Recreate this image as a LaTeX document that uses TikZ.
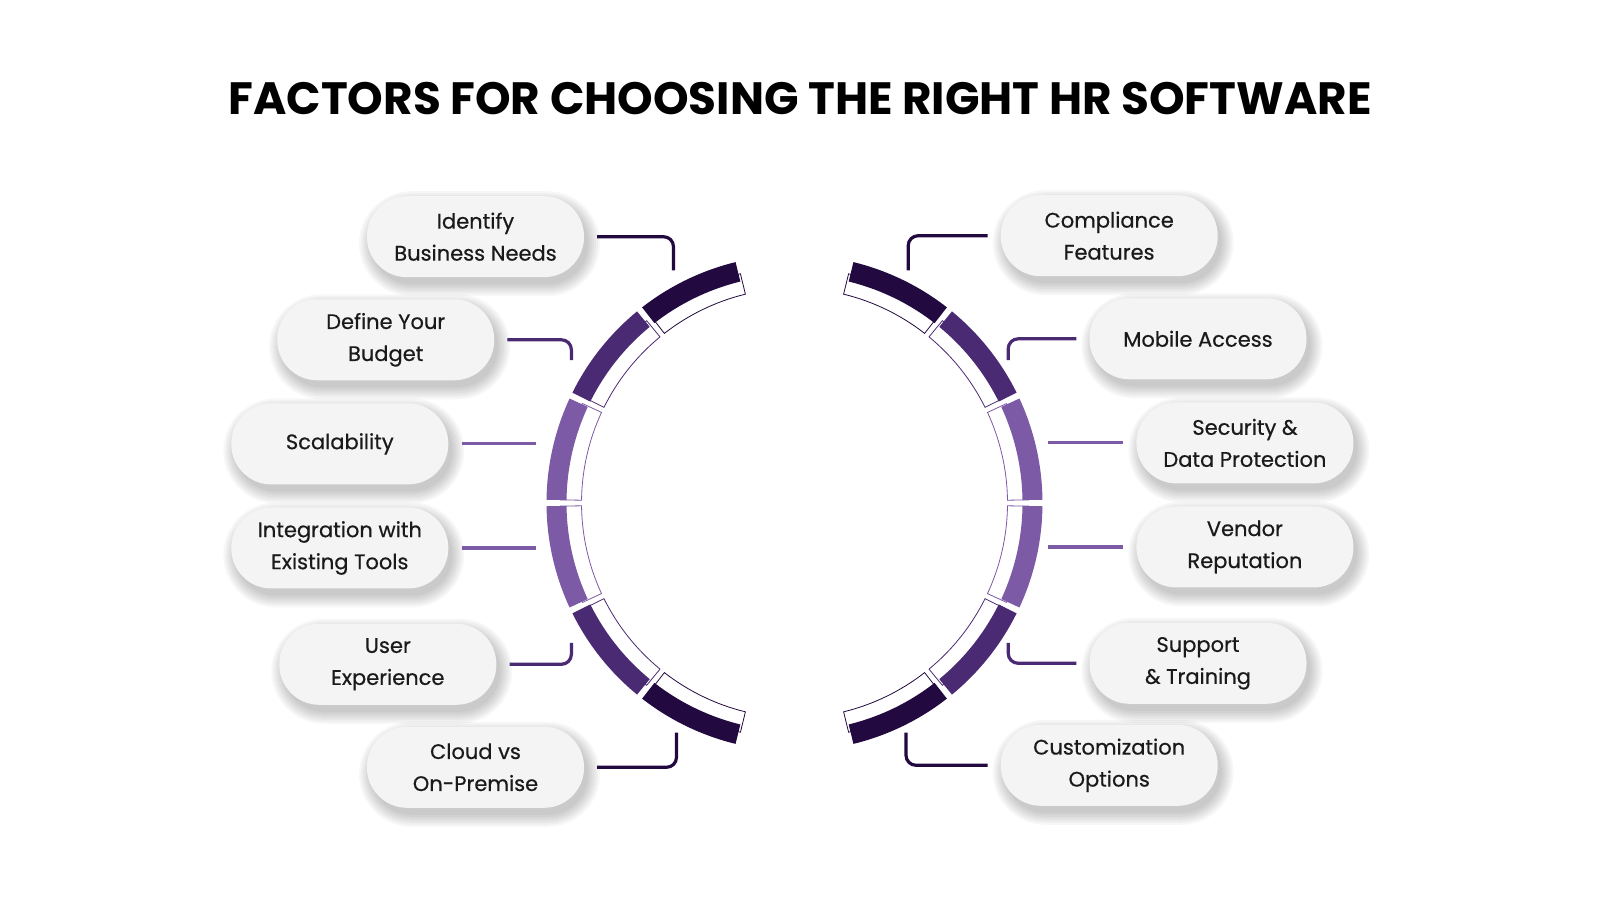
\documentclass[tikz,border=0pt]{standalone}
\usepackage{fontspec}
\setmainfont{Poppins}
\newfontfamily\pillfont{Poppins}[FakeBold=0.5]
\usetikzlibrary{calc}
\definecolor{segdark}{HTML}{22093F}
\definecolor{segmid}{HTML}{4A2A73}
\definecolor{seglight}{HTML}{7C5AA5}
\definecolor{pillfill}{HTML}{F4F4F4}
\definecolor{ink}{HTML}{1A1A1A}
\tikzset{
  pill/.style={rounded corners=40, fill=pillfill, minimum width=217, minimum height=81,
    align=center, inner sep=0pt, font=\pillfont\fontsize{21}{32}\selectfont, text=ink},
  conn/.style={line width=3.2, rounded corners=10},
}
\newcommand\mkpill[3]{%
  \foreach \k in {0,2,...,12} {%
    \fill[black,opacity=0.03,rounded corners={40.5+\k}]
      ($(#2)+(-108.5-\k+4,-40.5-\k-7)$) rectangle ($(#2)+(108.5+\k+4,40.5+\k-7)$);}
  \node[pill] (#1) at (#2) {#3};}
\begin{document}
\begin{tikzpicture}[x=1pt,y=1pt]
\useasboundingbox[fill=white] (0,0) rectangle (1600,900);
\node[font=\fontsize{45.3}{56}\selectfont\bfseries, text=black] (title) at (800,801)
  {FACTORS FOR CHOOSING THE RIGHT HR SOFTWARE};
% arc segments
\foreach \i/\c in {0/segdark,1/segmid,2/seglight,3/seglight,4/segmid,5/segdark} {
  \pgfmathsetmacro\a{103+\i*25.667+0.75}
  \pgfmathsetmacro\b{103+(\i+1)*25.667-0.75}
  \pgfmathsetmacro\ra{180-\a}
  \pgfmathsetmacro\rb{180-\b}
  % left white band
  \begin{scope}[shift={(796.5,397)}]
    \draw[\c, line width=0.8, fill=white] (\a:215) arc[start angle=\a, end angle=\b, radius=215]
      -- (\b:236) arc[start angle=\b, end angle=\a, radius=236] -- cycle;
  \end{scope}
  \begin{scope}[shift={(794.5,397)}]
    \fill[\c] (\a:248) arc[start angle=\a, end angle=\b, radius=248]
      -- (\b:228) arc[start angle=\b, end angle=\a, radius=228] -- cycle;
  \end{scope}
  % right
  \begin{scope}[shift={(792.5,397)}]
    \draw[\c, line width=0.8, fill=white] (\ra:215) arc[start angle=\ra, end angle=\rb, radius=215]
      -- (\rb:236) arc[start angle=\rb, end angle=\ra, radius=236] -- cycle;
  \end{scope}
  \begin{scope}[shift={(794.5,397)}]
    \fill[\c] (\ra:248) arc[start angle=\ra, end angle=\rb, radius=248]
      -- (\rb:228) arc[start angle=\rb, end angle=\ra, radius=228] -- cycle;
  \end{scope}
}
% pills
\mkpill{L1}{475.5,663.3}{Identify\\Business Needs}
\mkpill{L2}{385.7,560.2}{Define Your\\Budget}
\mkpill{L3}{339.8,456.1}{Scalability}
\mkpill{L4}{339.8,352}{Integration with\\Existing Tools}
\mkpill{L5}{387.8,235.7}{User\\Experience}
\mkpill{L6}{475.5,132.7}{Cloud vs\\On-Premise}
\mkpill{R1}{1109.2,664.3}{Compliance\\Features}
\mkpill{R2}{1198,561.2}{Mobile Access}
\mkpill{R3}{1244.9,457.1}{Security \&\\Data Protection}
\mkpill{R4}{1244.9,353}{Vendor\\Reputation}
\mkpill{R5}{1198,236.7}{Support\\\& Training}
\mkpill{R6}{1109.2,134.7}{Customization\\Options}
% connector ends
\coordinate (cL1) at (673.5,629.6);
\coordinate (cL2) at (571.4,539.8);
\coordinate (cL3) at (535.7,456.1);
\coordinate (cL4) at (535.7,352);
\coordinate (cL5) at (571.4,257.1);
\coordinate (cL6) at (676.5,167.3);
\coordinate (cR1) at (908.2,629.6);
\coordinate (cR2) at (1008.2,539.8);
\coordinate (cR3) at (1048,457.1);
\coordinate (cR4) at (1048,353);
\coordinate (cR5) at (1008.2,257.1);
\coordinate (cR6) at (906,167.3);
\draw[conn, segdark] ([xshift=13]L1.east) -| (cL1);
\draw[conn, segmid] ([xshift=13]L2.east) -| (cL2);
\draw[conn, seglight] ([xshift=13]L3.east) -- (cL3);
\draw[conn, seglight] ([xshift=13]L4.east) -- (cL4);
\draw[conn, segmid] ([xshift=13]L5.east) -| (cL5);
\draw[conn, segdark] ([xshift=13]L6.east) -| (cL6);
\draw[conn, segdark] ([xshift=-13]R1.west) -| (cR1);
\draw[conn, segmid] ([xshift=-13]R2.west) -| (cR2);
\draw[conn, seglight] ([xshift=-13]R3.west) -- (cR3);
\draw[conn, seglight] ([xshift=-13]R4.west) -- (cR4);
\draw[conn, segmid] ([xshift=-13]R5.west) -| (cR5);
\draw[conn, segdark] ([xshift=-13]R6.west) -| (cR6);
\end{tikzpicture}
\end{document}
